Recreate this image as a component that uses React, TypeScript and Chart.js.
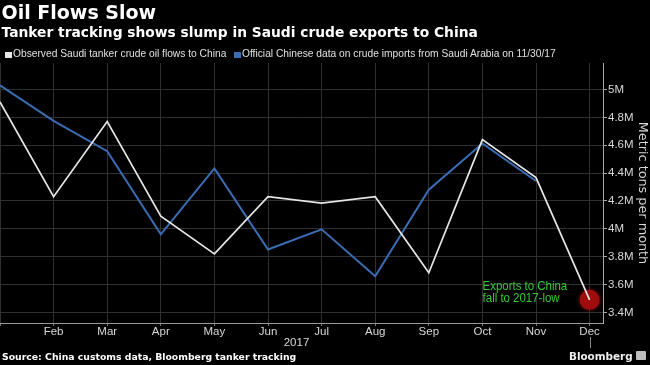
import React, { useEffect, useRef } from 'react';
import { Chart, registerables } from 'chart.js';

Chart.register(...registerables);

const months = ['Jan', 'Feb', 'Mar', 'Apr', 'May', 'Jun', 'Jul', 'Aug', 'Sep', 'Oct', 'Nov', 'Dec'];
const observedFlows = [4.91, 4.23, 4.77, 4.09, 3.82, 4.23, 4.185, 4.23, 3.685, 4.64, 4.367, 3.49];
const officialImports = [5.03, 4.775, 4.557, 3.96, 4.433, 3.852, 3.996, 3.66, 4.281, 4.613, 4.343, null];
const yTickValues = [3.4, 3.6, 3.8, 4.0, 4.2, 4.4, 4.6, 4.8, 5.0];
const yearLabel = '2017';
const seriesNames = [
  'Observed Saudi tanker crude oil flows to China',
  'Official Chinese data on crude imports from Saudi Arabia on 11/30/17',
];
const annotationLines = ['Exports to China', 'fall to 2017-low'];
const highlightIndex = 11;
const titleText = 'Oil Flows Slow';
const subtitleText = 'Tanker tracking shows slump in Saudi crude exports to China';
const sourceText = 'Source: China customs data, Bloomberg tanker tracking';
const yAxisTitle = 'Metric tons per month';

const WHITE = '#e6e6e6';
const BLUE = '#3b6db4';
const SANS = "'Liberation Sans', Arial, sans-serif";
const DEJAVU = "'DejaVu Sans', Verdana, sans-serif";

const extrasPlugin = {
  id: 'extras',
  beforeDatasetsDraw(chart: any) {
    const meta = chart.getDatasetMeta(0);
    const pt = meta.data[highlightIndex];
    if (!pt) return;
    const ctx = chart.ctx;
    ctx.save();
    ctx.beginPath();
    ctx.arc(pt.x, pt.y, 10, 0, Math.PI * 2);
    ctx.shadowColor = 'rgba(200,20,20,0.7)';
    ctx.shadowBlur = 4;
    ctx.fillStyle = 'rgba(160,14,14,0.95)';
    ctx.fill();
    ctx.restore();
  },
  afterDraw(chart: any) {
    const ctx = chart.ctx;
    const meta = chart.getDatasetMeta(0);
    const pt = meta.data[highlightIndex];
    const area = chart.chartArea;
    const xs = chart.scales.x;
    ctx.save();
    if (pt) {
      const sx = 0.88;
      const x0 = pt.x - 107;
      ctx.save();
      ctx.translate(x0, 0);
      ctx.scale(sx, 1);
      ctx.font = `13px ${SANS}`;
      ctx.fillStyle = '#36c936';
      ctx.textAlign = 'left';
      ctx.textBaseline = 'alphabetic';
      ctx.fillText(annotationLines[0], 0, pt.y - 10);
      ctx.fillText(annotationLines[1], 0, pt.y + 2.5);
      ctx.restore();
    }
    ctx.font = `11.5px ${SANS}`;
    ctx.fillStyle = '#d8d8d8';
    ctx.textAlign = 'center';
    ctx.textBaseline = 'middle';
    ctx.fillText(yearLabel, (area.left + area.right) / 2 - 5, 342.5);
    const lx = Math.round(xs.getPixelForValue(months.length - 1)) + 0.5;
    ctx.strokeStyle = '#888';
    ctx.lineWidth = 1;
    ctx.beginPath();
    ctx.moveTo(lx, 337);
    ctx.lineTo(lx, 348);
    ctx.stroke();
    ctx.restore();
  },
};

export default function App() {
  const ref = useRef<HTMLCanvasElement>(null);
  useEffect(() => {
    const chart = new Chart(ref.current as HTMLCanvasElement, {
      type: 'line',
      data: {
        datasets: [
          {
            label: seriesNames[0],
            data: observedFlows.map((v, i) => ({ x: i, y: v })),
            borderColor: WHITE,
            backgroundColor: WHITE,
            borderWidth: 1.7,
            pointRadius: 0,
            tension: 0,
          },
          {
            label: seriesNames[1],
            data: officialImports
              .map((v, i) => ({ x: i, y: v }))
              .filter((p) => p.y !== null) as any,
            borderColor: BLUE,
            backgroundColor: BLUE,
            borderWidth: 2,
            pointRadius: 0,
            tension: 0,
          },
        ],
      },
      options: {
        animation: false,
        responsive: false,
        devicePixelRatio: 1,
        layout: { padding: { top: 63, left: 0, right: 0, bottom: 0 } },
        plugins: { legend: { display: false }, tooltip: { enabled: false }, title: { display: false } },
        scales: {
          x: {
            type: 'linear',
            min: 0,
            max: 11.25,
            afterBuildTicks: (s: any) => {
              s.ticks = months.map((_, i) => ({ value: i }));
            },
            afterFit: (s: any) => {
              s.height = 42;
            },
            ticks: {
              autoSkip: false,
              maxRotation: 0,
              padding: 0,
              color: '#d8d8d8',
              font: { family: SANS, size: 11.5, lineHeight: 1 },
              callback: (v: any) => (v === 0 ? '' : months[v as number]),
            },
            grid: { color: '#303030', drawTicks: true, tickLength: 3, tickColor: '#777' },
            border: { color: '#999', width: 1 },
          },
          y: {
            type: 'linear',
            position: 'right',
            min: 3.324,
            max: 5.19,
            afterBuildTicks: (s: any) => {
              s.ticks = yTickValues.map((v) => ({ value: v }));
            },
            afterFit: (s: any) => {
              s.width = 47;
            },
            ticks: {
              padding: 1,
              color: '#d8d8d8',
              font: { family: SANS, size: 11.5 },
              callback: (v: any) => `${+Number(v).toFixed(1)}M`,
            },
            grid: { color: '#303030', drawTicks: true, tickLength: 4, tickColor: '#aaa' },
            border: { color: '#aaa', width: 1 },
            title: {
              display: true,
              text: yAxisTitle,
              color: '#d8d8d8',
              padding: 0,
              font: { family: DEJAVU, size: 12.8 },
            },
          },
        },
      } as any,
      plugins: [extrasPlugin],
    });
    return () => chart.destroy();
  }, []);

  const abs = (extra: React.CSSProperties): React.CSSProperties => ({
    position: 'absolute',
    whiteSpace: 'nowrap',
    lineHeight: 1,
    margin: 0,
    ...extra,
  });
  const legendText: React.CSSProperties = {
    fontFamily: SANS,
    fontSize: 11.5,
    color: '#e0e0e0',
    transform: 'scaleX(0.89)',
    transformOrigin: '0 0',
  };

  return (
    <div
      style={{
        position: 'fixed',
        left: 0,
        top: 0,
        width: 650,
        height: 365,
        background: '#000',
        overflow: 'hidden',
      }}
    >
      <canvas ref={ref} width={650} height={365} style={{ position: 'absolute', left: 0, top: 0, display: 'block' }} />
      <div style={abs({ left: 1.5, top: 2.9, fontFamily: DEJAVU, fontWeight: 'bold', fontSize: 19, color: '#fff' })}>
        {titleText}
      </div>
      <div style={abs({ left: 1.5, top: 25.6, fontFamily: DEJAVU, fontWeight: 'bold', fontSize: 13.8, color: '#fff' })}>
        {subtitleText}
      </div>
      <div style={abs({ left: 5, top: 51.5, width: 6.5, height: 6, background: WHITE })} />
      <div style={abs({ left: 13, top: 47.8, ...legendText })}>{seriesNames[0]}</div>
      <div style={abs({ left: 234, top: 51.5, width: 6.5, height: 6, background: BLUE })} />
      <div style={abs({ left: 242, top: 47.8, ...legendText })}>{seriesNames[1]}</div>
      <div style={abs({ left: 2, top: 352.1, fontFamily: DEJAVU, fontWeight: 'bold', fontSize: 9.3, color: '#fff' })}>
        {sourceText}
      </div>
      <div style={abs({ left: 569, top: 350.5, fontFamily: DEJAVU, fontWeight: 'bold', fontSize: 10.4, color: '#eee' })}>
        Bloomberg
      </div>
      <div style={abs({ left: 636, top: 351, width: 10, height: 9, background: '#bdbdbd', borderRadius: 1 })} />
    </div>
  );
}
